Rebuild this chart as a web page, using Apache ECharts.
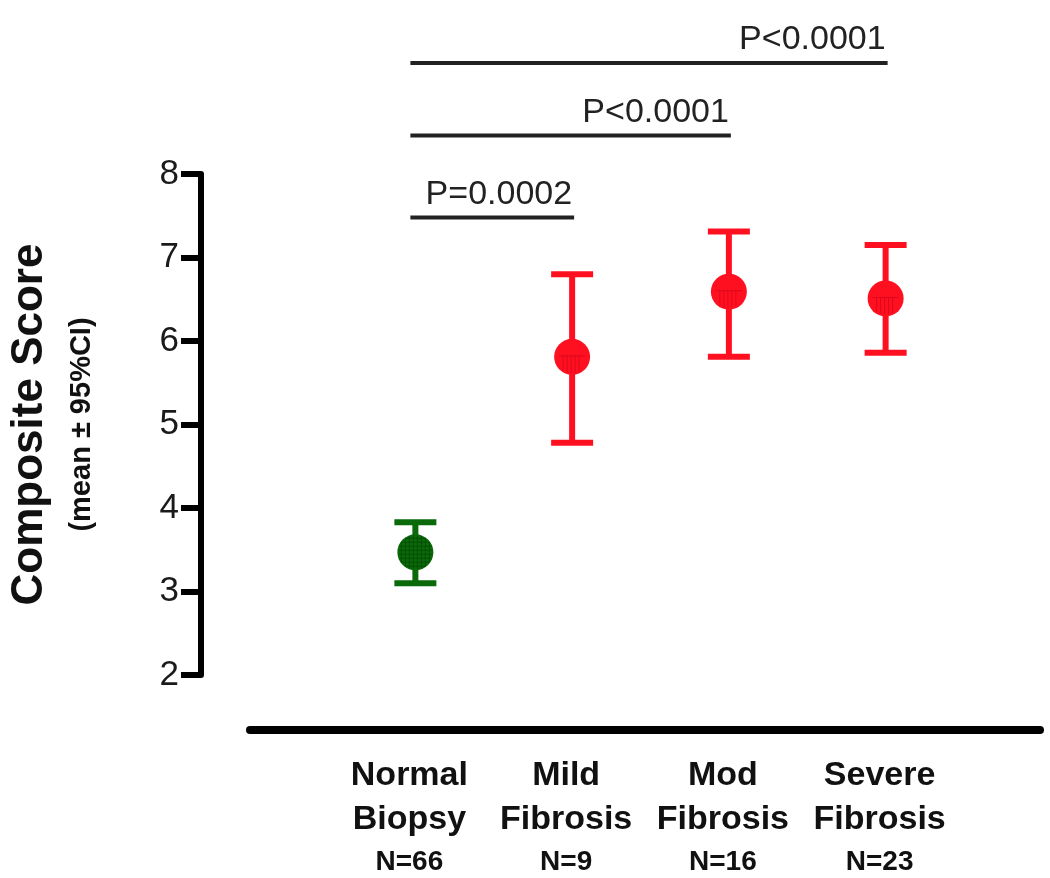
<!DOCTYPE html>
<html>
<head>
<meta charset="utf-8">
<script src="https://cdn.jsdelivr.net/npm/echarts@6/dist/echarts.min.js"></script>
<style>
  html, body { margin: 0; padding: 0; background: #fff; }
  #chart { width: 1050px; height: 878px; }
</style>
</head>
<body>
<div id="chart"></div>
<script>
// groups on the x axis
const groupNames = [['Normal', 'Biopsy'], ['Mild', 'Fibrosis'], ['Mod', 'Fibrosis'], ['Severe', 'Fibrosis']];
const groupN = ['N=66', 'N=9', 'N=16', 'N=23'];

// composite score, mean and 95% CI
const means = [3.47, 5.81, 6.59, 6.51];
const ciLow = [3.10, 4.78, 5.81, 5.86];
const ciHigh = [3.83, 6.80, 7.31, 7.15];

// significance brackets (from group, to group, height in score units)
const sigFrom = [0, 0, 0];
const sigTo = [1, 2, 3];
const sigLevel = [7.48, 8.46, 9.33];
const sigText = ['P=0.0002', 'P<0.0001', 'P<0.0001'];

const yTicks = { min: 2, max: 8, interval: 1 };

const groupColors = ['#0a6a0a', '#ff1020', '#ff1020', '#ff1020'];
const hatchColors = ['#053f05', '#c8001a', '#c8001a', '#c8001a'];
const FONT = '"Liberation Sans", Arial, sans-serif';

const chart = echarts.init(document.getElementById('chart'));

const errorData = means.map((m, i) => [i, m, ciLow[i], ciHigh[i]]);
const sigData = sigFrom.map((f, i) => [f, sigLevel[i], sigTo[i]]);

// fill pattern inside the dots: grid for the green one, half vertical lines for the red ones
const hatch = (cx, cy, r, idx) => {
  const out = [];
  const stroke = hatchColors[idx];
  const style = { stroke, lineWidth: 1, opacity: 0.6 };
  if (idx === 0) {
    for (let d = -14; d <= 14; d += 4) {
      const h = Math.sqrt(r * r - d * d) - 1;
      out.push({ type: 'line', shape: { x1: cx + d, y1: cy - h, x2: cx + d, y2: cy + h }, style });
      out.push({ type: 'line', shape: { x1: cx - h, y1: cy + d, x2: cx + h, y2: cy + d }, style });
    }
  } else {
    out.push({ type: 'line', shape: { x1: cx - 13, y1: cy - 1, x2: cx + 13, y2: cy - 1 }, style });
    for (let d = -9; d <= 9; d += 4) {
      const h = Math.sqrt(r * r - d * d) - 2;
      out.push({ type: 'line', shape: { x1: cx + d, y1: cy - 1, x2: cx + d, y2: cy + h }, style });
    }
  }
  return out;
};

const option = {
  backgroundColor: '#ffffff',
  animation: false,
  textStyle: { fontFamily: FONT },
  grid: [
    { left: 333, right: 86, top: 174, bottom: 203 },
    { left: 250, right: 10, top: 726, height: 4 }
  ],
  xAxis: [
    {
      type: 'category',
      gridIndex: 0,
      data: groupNames.map(g => g.join(' ')),
      axisLine: { show: false },
      axisTick: { show: false },
      splitLine: { show: false },
      axisLabel: {
        interval: 0,
        margin: 79,
        padding: [0, 12, 0, 0],
        formatter: (v, i) => groupNames[i].map(s => `{n|${s}}`).join('\n') + `\n{c|${groupN[i]}}`,
        rich: {
          n: { fontSize: 34, fontWeight: 'bold', lineHeight: 44, color: '#111', fontFamily: FONT },
          c: { fontSize: 28, fontWeight: 'bold', lineHeight: 40, color: '#111', fontFamily: FONT }
        }
      }
    },
    {
      type: 'value',
      gridIndex: 1,
      min: 0,
      max: 1,
      axisLine: { show: true, lineStyle: { color: '#000', width: 8 } },
      axisTick: { show: false },
      axisLabel: { show: false },
      splitLine: { show: false }
    }
  ],
  yAxis: [
    {
      type: 'value',
      gridIndex: 0,
      min: yTicks.min,
      max: yTicks.max,
      interval: yTicks.interval,
      offset: 136,
      axisLine: { show: true, lineStyle: { color: '#000', width: 6 } },
      axisTick: { show: true, length: 20, lineStyle: { color: '#000', width: 6 } },
      axisLabel: { margin: 22, fontSize: 35, color: '#1a1a1a', fontFamily: FONT },
      splitLine: { show: false },
      name: '{t|Composite Score}\n{s|(mean ± 95%CI)}',
      nameLocation: 'middle',
      nameRotate: 90,
      nameGap: 93,
      nameTextStyle: {
        rich: {
          t: { fontSize: 44, fontWeight: 'bold', lineHeight: 52, color: '#111', fontFamily: FONT },
          s: { fontSize: 29, fontWeight: 'bold', lineHeight: 52, color: '#111', fontFamily: FONT }
        }
      }
    },
    { type: 'value', gridIndex: 1, show: false, min: 0, max: 1 }
  ],
  series: [
    {
      name: 'Composite Score',
      type: 'custom',
      xAxisIndex: 0,
      yAxisIndex: 0,
      data: errorData,
      encode: { x: 0, y: 1 },
      renderItem: (params, api) => {
        const c = api.coord([api.value(0), api.value(1)]);
        const lo = api.coord([api.value(0), api.value(2)]);
        const hi = api.coord([api.value(0), api.value(3)]);
        const color = groupColors[params.dataIndex];
        const half = 21;
        const r = 18;
        return {
          type: 'group',
          children: [
            { type: 'line', shape: { x1: hi[0], y1: hi[1], x2: lo[0], y2: lo[1] }, style: { stroke: color, lineWidth: 6 } },
            { type: 'line', shape: { x1: hi[0] - half, y1: hi[1], x2: hi[0] + half, y2: hi[1] }, style: { stroke: color, lineWidth: 6 } },
            { type: 'line', shape: { x1: lo[0] - half, y1: lo[1], x2: lo[0] + half, y2: lo[1] }, style: { stroke: color, lineWidth: 6 } },
            { type: 'circle', shape: { cx: c[0], cy: c[1], r }, style: { fill: color } }
          ].concat(hatch(c[0], c[1], r, params.dataIndex))
        };
      }
    },
    {
      name: 'Significance',
      type: 'custom',
      xAxisIndex: 0,
      yAxisIndex: 0,
      data: sigData,
      encode: { x: 0, y: 1 },
      clip: false,
      renderItem: (params, api) => {
        const a = api.coord([api.value(0), api.value(1)]);
        const b = api.coord([api.value(2), api.value(1)]);
        return {
          type: 'group',
          children: [
            { type: 'line', shape: { x1: a[0] - 5, y1: a[1], x2: b[0] + 2, y2: b[1] }, style: { stroke: '#222', lineWidth: 4 } },
            {
              type: 'text',
              style: {
                text: sigText[params.dataIndex],
                x: b[0],
                y: a[1] - 6,
                align: 'right',
                verticalAlign: 'bottom',
                fontSize: 34,
                fontFamily: FONT,
                fill: '#222'
              }
            }
          ]
        };
      }
    }
  ]
};

chart.setOption(option);
</script>
</body>
</html>
